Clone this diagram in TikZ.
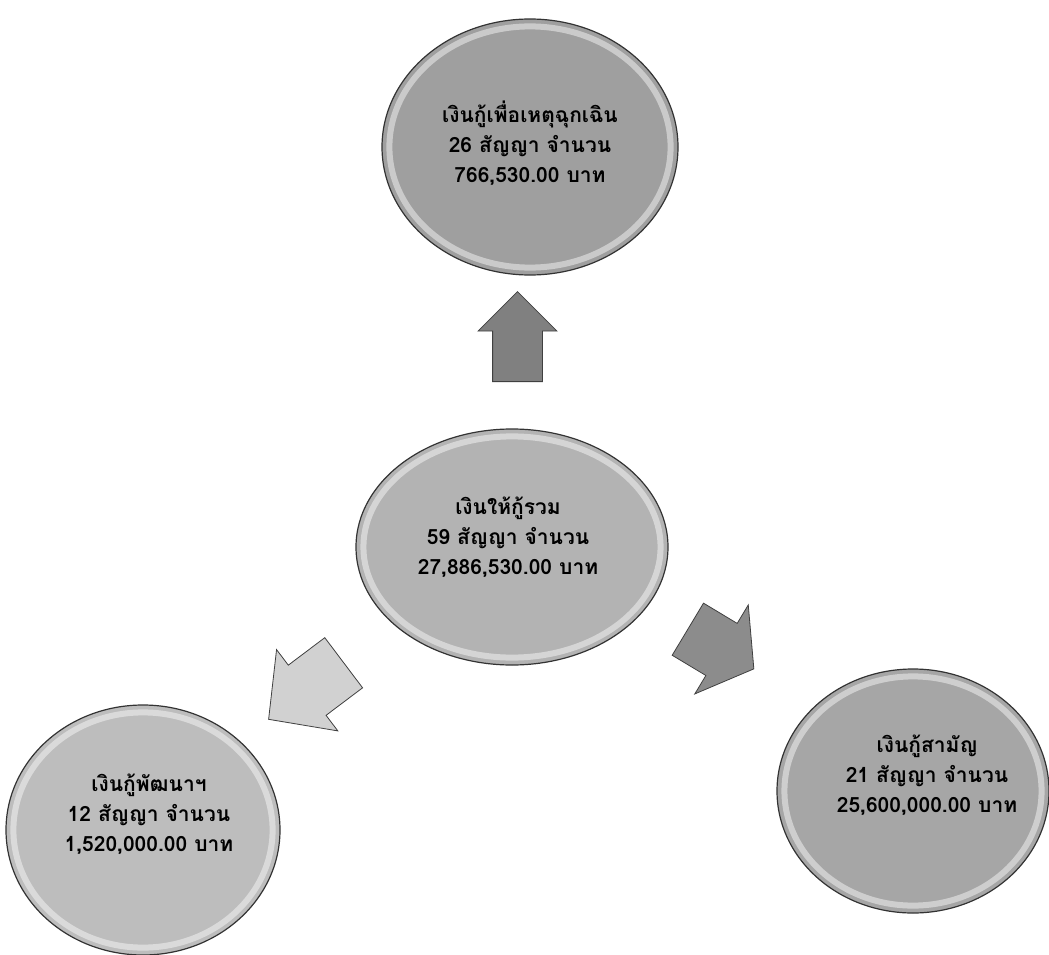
\documentclass[tikz,border=0pt]{standalone}
\usepackage{fontspec}
\newfontfamily\thaifont[Script=Thai]{Loma}
\usetikzlibrary{shapes.geometric,shapes.arrows,calc}

\definecolor{emergencygray}{HTML}{9F9F9F}
\definecolor{totalgray}{HTML}{B3B3B3}
\definecolor{developgray}{HTML}{BDBDBD}
\definecolor{ordinarygray}{HTML}{A6A6A6}

\tikzset{
	bubble/.style={ellipse, draw=black!80, line width=1.2pt, inner sep=0pt},
	loantext/.style={align=center, inner sep=0pt,
		font=\thaifont\bfseries\fontsize{21}{30}\selectfont},
	rim/.style={white, line width=6pt, opacity=0.45},
	blockarrow/.style={single arrow, draw=black!75, line width=0.8pt,
		inner xsep=0pt, anchor=tail}
}

\begin{document}
\begin{tikzpicture}[x=1pt,y=-1pt]

\useasboundingbox (0,0) rectangle (1049,955);

% the four loan bubbles
\node [bubble, fill=emergencygray, minimum width=296pt, minimum height=256pt] (emergency) at (530,147) {};
\node [bubble, fill=totalgray, minimum width=312pt, minimum height=236pt] (total) at (512,547) {};
\node [bubble, fill=developgray, minimum width=274pt, minimum height=250pt] (develop) at (143,830) {};
\node [bubble, fill=ordinarygray, minimum width=272pt, minimum height=244pt] (ordinary) at (913,791) {};

% light bevel inside each bubble
\foreach \b in {emergency,total,develop,ordinary} {
	\draw [rim] let \p0=(\b.center), \p1=(\b.east), \p2=(\b.north) in
		(\p0) ellipse ({\x1-\x0-8pt} and {\y2-\y0-8pt});
}

% texts, a little above the middle
\node [loantext] (emergencytext) at ([yshift=4pt]emergency.center)
	{เงินกู้เพื่อเหตุฉุกเฉิน\\26 สัญญา จำนวน\\766,530.00 บาท};
\node [loantext] (totaltext) at ([xshift=-4pt,yshift=10pt]total.center)
	{เงินให้กู้รวม\\59 สัญญา จำนวน\\27,886,530.00 บาท};
\node [loantext] (developtext) at ([xshift=6pt,yshift=16pt]develop.center)
	{เงินกู้พัฒนาฯ\\12 สัญญา จำนวน\\1,520,000.00 บาท};
\node [loantext] (ordinarytext) at ([xshift=14pt,yshift=16pt]ordinary.center)
	{เงินกู้สามัญ\\21 สัญญา จำนวน\\25,600,000.00 บาท};

% block arrows from the total
\node [blockarrow, fill=black!50, rotate=90, minimum height=90pt, inner ysep=24.5pt,
	single arrow head extend=14.5pt, single arrow tip angle=90] (toemergency) at (517.5,382) {};
\node [blockarrow, fill=black!18, rotate=217, minimum height=94pt, inner ysep=31pt,
	single arrow head extend=19.5pt, single arrow tip angle=93] (todevelop) at (344,662.5) {};
\node [blockarrow, fill=black!45, rotate=-31, minimum height=77pt, inner ysep=30pt,
	single arrow head extend=21.5pt, single arrow tip angle=108] (toordinary) at (687.5,629) {};

\end{tikzpicture}
\end{document}
